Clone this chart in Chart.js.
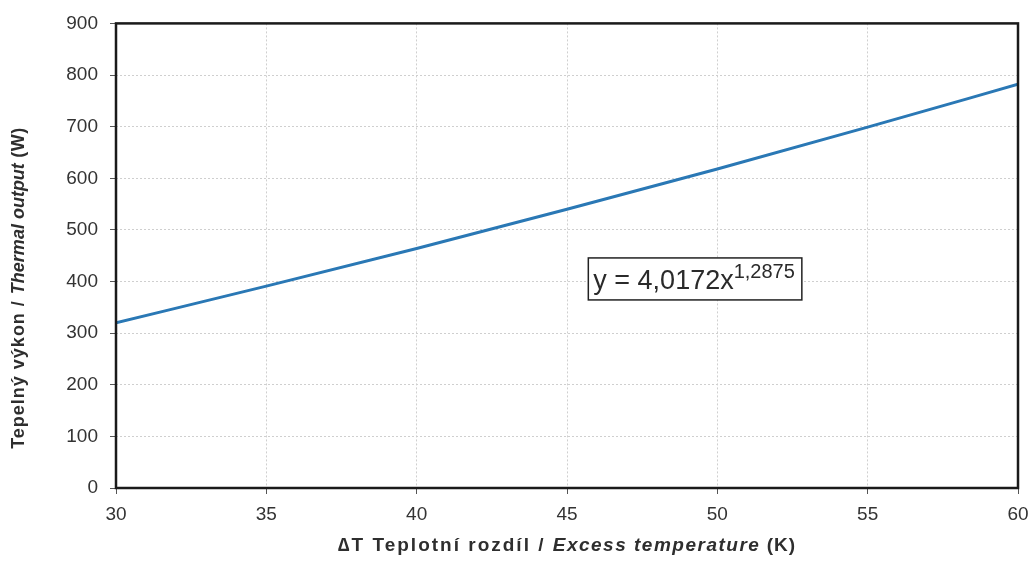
<!DOCTYPE html>
<html>
<head>
<meta charset="utf-8">
<script src="https://cdn.jsdelivr.net/npm/chart.js@4"></script>
<style>
  html, body { margin: 0; padding: 0; background: #fff; }
  #wrap { width: 1032px; height: 563px; }
</style>
</head>
<body>
<div id="wrap"><canvas id="myChart" width="1032" height="563"></canvas></div>
<script>
// data
const deltaT = [30, 35, 40, 45, 50, 55, 60];
const thermalOutput = [320, 391, 464, 540, 618, 699, 782];
const xTicks = [30, 35, 40, 45, 50, 55, 60];
const yTicks = [0, 100, 200, 300, 400, 500, 600, 700, 800, 900];

const equationPos = { x: 49.26, y: 405 };

const FONT = "'Liberation Sans', Arial, sans-serif";

// frame, axis titles and equation box
const extras = {
  id: "extras",
  afterDraw(chart) {
    const ctx = chart.ctx;
    const a = chart.chartArea;
    const xs = chart.scales.x;
    const ys = chart.scales.y;

    // frame
    ctx.save();
    ctx.strokeStyle = "#1a1a1a";
    ctx.lineWidth = 2.5;
    ctx.strokeRect(a.left, a.top, a.right - a.left, a.bottom - a.top);
    ctx.restore();

    // mixed style text helper
    function drawParts(parts, cx, cy) {
      let total = 0;
      parts.forEach((p) => {
        ctx.font = p.font;
        ctx.letterSpacing = p.ls || "0px";
        p.w = ctx.measureText(p.t).width;
        total += p.w;
      });
      let x = cx - total / 2;
      parts.forEach((p) => {
        ctx.font = p.font;
        ctx.letterSpacing = p.ls || "0px";
        ctx.fillText(p.t, x, cy);
        x += p.w;
      });
      ctx.letterSpacing = "0px";
    }

    const b = "bold 19px " + FONT;
    const bi = "italic bold 19px " + FONT;

    ctx.save();
    ctx.fillStyle = "#2e2e2e";
    ctx.textBaseline = "middle";
    ctx.textAlign = "left";
    drawParts(
      [
        { t: "\u2206T Teplotní rozdíl / ", font: b, ls: "2px" },
        { t: "Excess temperature", font: bi, ls: "1.5px" },
        { t: " (K)", font: b, ls: "1px" },
      ],
      (a.left + a.right) / 2,
      546
    );

    ctx.translate(19, 288);
    ctx.rotate(-Math.PI / 2);
    const b2 = "bold 18px " + FONT;
    const bi2 = "italic bold 18px " + FONT;
    drawParts(
      [
        { t: "Tepelný výkon / ", font: b2, ls: "1px" },
        { t: "Thermal output", font: bi2, ls: "0px" },
        { t: " (W)", font: b2, ls: "0.5px" },
      ],
      0,
      0
    );
    ctx.restore();

    // equation box
    const cx = xs.getPixelForValue(equationPos.x);
    const cy = ys.getPixelForValue(equationPos.y);
    ctx.save();
    const main = "y = 4,0172x";
    const sup = "1,2875";
    ctx.font = "27px " + FONT;
    const w1 = ctx.measureText(main).width;
    ctx.font = "20px " + FONT;
    const w2 = ctx.measureText(sup).width;
    const w = w1 + w2 + 12;
    const h = 42;
    const bx = cx - w / 2;
    const by = cy - h / 2;
    ctx.fillStyle = "#fff";
    ctx.fillRect(bx, by, w, h);
    ctx.strokeStyle = "#222";
    ctx.lineWidth = 1.5;
    ctx.strokeRect(bx, by, w, h);
    ctx.fillStyle = "#2a2a2a";
    ctx.textBaseline = "alphabetic";
    ctx.textAlign = "left";
    ctx.font = "27px " + FONT;
    ctx.fillText(main, bx + 5, cy + 10);
    ctx.font = "20px " + FONT;
    ctx.fillText(sup, bx + 5 + w1, cy - 1);
    ctx.restore();
  },
};

new Chart(document.getElementById("myChart").getContext("2d"), {
  type: "line",
  data: {
    datasets: [
      {
        data: deltaT.map((x, i) => ({ x: x, y: thermalOutput[i] })),
        borderColor: "#2a78b5",
        borderWidth: 3,
        pointRadius: 0,
        cubicInterpolationMode: "monotone",
        fill: false,
      },
    ],
  },
  options: {
    responsive: false,
    animation: false,
    layout: { padding: { left: 40, top: 22, right: 14, bottom: 0 } },
    plugins: { legend: { display: false }, tooltip: { enabled: false } },
    scales: {
      x: {
        type: "linear",
        min: 30,
        max: 60,
        afterBuildTicks: (s) => {
          s.ticks = xTicks.map((v) => ({ value: v }));
        },
        afterFit: (s) => {
          s.height = 75;
          s.paddingRight = 0;
        },
        grid: {
          color: "#cfcfcf",
          lineWidth: 1,
          tickLength: 6,
          tickColor: "#555",
        },
        border: { display: false, dash: [2, 2] },
        ticks: {
          color: "#333",
          padding: 9,
          font: { family: FONT, size: 19 },
          maxRotation: 0,
        },
      },
      y: {
        min: 0,
        max: 900,
        afterBuildTicks: (s) => {
          s.ticks = yTicks.map((v) => ({ value: v }));
        },
        afterFit: (s) => {
          s.width = 76;
        },
        grid: {
          color: "#cfcfcf",
          lineWidth: 1,
          tickLength: 6,
          tickColor: "#555",
        },
        border: { display: false, dash: [2, 2] },
        ticks: {
          color: "#333",
          padding: 12,
          font: { family: FONT, size: 19 },
        },
      },
    },
  },
  plugins: [extras],
});
</script>
</body>
</html>
